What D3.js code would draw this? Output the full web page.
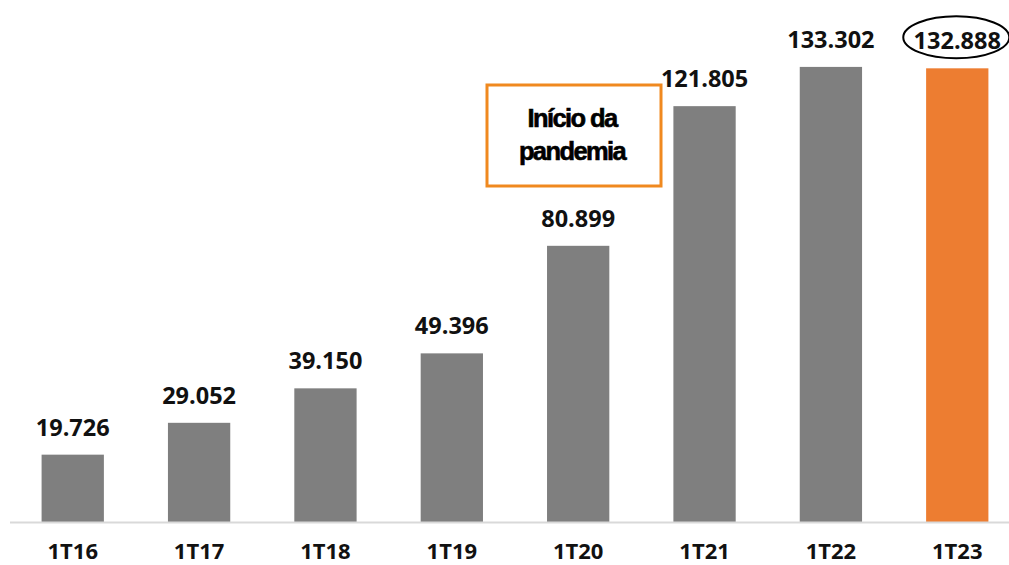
<!DOCTYPE html>
<html>
<head>
<meta charset="utf-8">
<script src="https://cdn.jsdelivr.net/npm/d3@7"></script>
<style>
  html, body { margin: 0; padding: 0; background: #ffffff; }
  svg { display: block; }
</style>
</head>
<body>
<svg id="chart" width="1009" height="565"></svg>
<script>
// Quarterly values, first quarter of each year
const categories = ["1T16", "1T17", "1T18", "1T19", "1T20", "1T21", "1T22", "1T23"];
const values = [19726, 29052, 39150, 49396, 80899, 121805, 133302, 132888];
const valueLabels = ["19.726", "29.052", "39.150", "49.396", "80.899", "121.805", "133.302", "132.888"];
const highlighted = ["1T23"];
const noteLines = ["Início da", "pandemia"];

const width = 1009, height = 565;
const baseline = 522;
const svg = d3.select("#chart");

const x = d3.scaleBand()
  .domain(categories)
  .range([10, 1020])
  .paddingInner(0.507)
  .paddingOuter(0.25);

const y = d3.scaleLinear()
  .domain([0, 140000])
  .range([baseline, baseline - 140000 * 0.003414]);

const data = categories.map((c, i) => ({ cat: c, value: values[i], label: valueLabels[i] }));

// bars
svg.append("g").selectAll("rect")
  .data(data)
  .join("rect")
  .attr("x", d => x(d.cat))
  .attr("y", d => y(d.value))
  .attr("width", x.bandwidth())
  .attr("height", d => y(0) - y(d.value))
  .attr("fill", d => highlighted.includes(d.cat) ? "#ED7D31" : "#7F7F7F");

// baseline axis
const xAxis = d3.axisBottom(x).tickSize(0).tickPadding(0);
const axisG = svg.append("g")
  .attr("transform", `translate(0,${baseline})`)
  .call(xAxis);
axisG.select(".domain")
  .attr("d", `M10,0.5H1009`)
  .attr("stroke", "#D9D9D9")
  .attr("stroke-width", 2);
axisG.selectAll(".tick text")
  .attr("y", 37)
  .attr("dy", 0)
  .attr("font-family", "'Open Sans', 'DejaVu Sans', sans-serif")
  .attr("font-weight", 700)
  .attr("font-size", 22)
  .attr("fill", "#111111");

// value labels
svg.append("g").selectAll("text")
  .data(data)
  .join("text")
  .attr("x", d => x(d.cat) + x.bandwidth() / 2)
  .attr("y", d => y(d.value) - 19)
  .attr("text-anchor", "middle")
  .attr("font-family", "'Open Sans', 'DejaVu Sans', sans-serif")
  .attr("font-weight", 700)
  .attr("font-size", 23.5)
  .attr("fill", "#111111")
  .text(d => d.label);

// ellipse around the latest value
const last = data[data.length - 1];
svg.append("ellipse")
  .attr("cx", x(last.cat) + x.bandwidth() / 2 - 1)
  .attr("cy", y(last.value) - 31)
  .attr("rx", 53)
  .attr("ry", 21)
  .attr("fill", "none")
  .attr("stroke", "#000000")
  .attr("stroke-width", 2);

// pandemic note box
const note = svg.append("g");
note.append("rect")
  .attr("x", 487)
  .attr("y", 85)
  .attr("width", 174)
  .attr("height", 101)
  .attr("fill", "#ffffff")
  .attr("stroke", "#F0891F")
  .attr("stroke-width", 3);
note.selectAll("text")
  .data(noteLines)
  .join("text")
  .attr("x", 572)
  .attr("y", (d, i) => 127 + i * 33)
  .attr("text-anchor", "middle")
  .attr("font-family", "'Liberation Sans', Arial, sans-serif")
  .attr("font-weight", 700)
  .attr("font-size", 25.5)
  .attr("letter-spacing", -1.6)
  .attr("stroke", "#000000")
  .attr("stroke-width", 0.6)
  .attr("fill", "#000000")
  .text(d => d);
</script>
</body>
</html>
